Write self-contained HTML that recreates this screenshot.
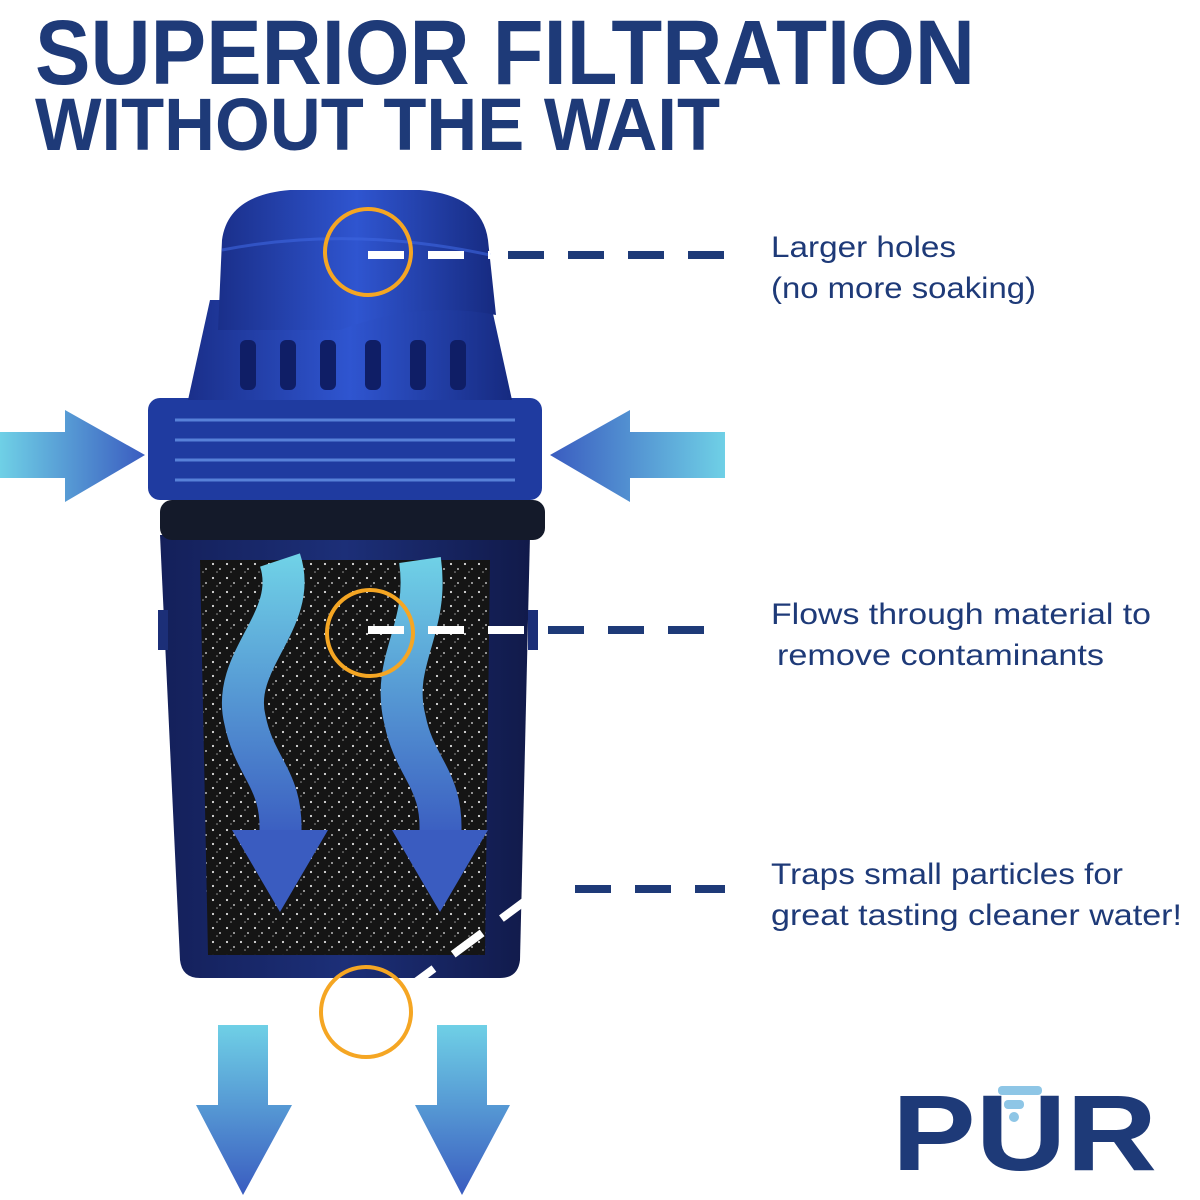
<!DOCTYPE html>
<html><head><meta charset="utf-8"><style>
html,body{margin:0;padding:0;background:#fff;}
svg{display:block;}
text{font-family:"Liberation Sans",sans-serif;}
</style></head><body>
<svg width="1200" height="1200" viewBox="0 0 1200 1200" xmlns="http://www.w3.org/2000/svg">
<defs>
<linearGradient id="hl" x1="0" x2="1" y1="0" y2="0"><stop offset="0" stop-color="#6fd0e6"/><stop offset="1" stop-color="#3a5cc0"/></linearGradient>
<linearGradient id="hr" x1="1" x2="0" y1="0" y2="0"><stop offset="0" stop-color="#6fd0e6"/><stop offset="1" stop-color="#3a5cc0"/></linearGradient>
<linearGradient id="vd" x1="0" x2="0" y1="0" y2="1"><stop offset="0" stop-color="#6fd0e6"/><stop offset="1" stop-color="#3a5cc0"/></linearGradient>
<linearGradient id="cap" x1="0" x2="1" y1="0" y2="0"><stop offset="0" stop-color="#1a2f8a"/><stop offset=".5" stop-color="#2f55d0"/><stop offset="1" stop-color="#162a80"/></linearGradient>
<linearGradient id="cup" x1="0" x2="1" y1="0" y2="0"><stop offset="0" stop-color="#14205a"/><stop offset=".5" stop-color="#1c2f78"/><stop offset="1" stop-color="#111a4a"/></linearGradient>
<pattern id="speck" width="14" height="14" patternUnits="userSpaceOnUse">
<rect width="14" height="14" fill="#151515"/>
<circle cx="3" cy="4" r="1.1" fill="#ddd"/><circle cx="10" cy="9" r="1" fill="#bbb"/><circle cx="7" cy="12" r=".8" fill="#999"/>
</pattern>
</defs>
<text x="35" y="84" font-size="92" font-weight="bold" fill="#1e3a78" textLength="940" lengthAdjust="spacingAndGlyphs">SUPERIOR FILTRATION</text>
<text x="35" y="150" font-size="74" font-weight="bold" fill="#1e3a78" textLength="685" lengthAdjust="spacingAndGlyphs">WITHOUT THE WAIT</text>

<path d="M160 535 L530 535 L520 960 Q518 978 500 978 L200 978 Q182 978 180 960 Z" fill="url(#cup)"/>
<rect x="158" y="610" width="10" height="40" fill="#1c2f78"/>
<rect x="528" y="610" width="10" height="40" fill="#1c2f78"/>
<path d="M200 560 L490 560 L485 955 L208 955 Z" fill="url(#speck)"/>
<rect x="160" y="500" width="385" height="40" rx="12" fill="#141a2a"/>
<rect x="148" y="398" width="394" height="102" rx="12" fill="#1f3ba0"/>
<g stroke="#6f9ff0" stroke-width="3" opacity=".7">
<line x1="175" y1="420" x2="515" y2="420"/><line x1="175" y1="440" x2="515" y2="440"/><line x1="175" y1="460" x2="515" y2="460"/><line x1="175" y1="480" x2="515" y2="480"/>
</g>
<path d="M210 300 L490 300 L512 400 L188 400 Z" fill="url(#cap)"/>
<g fill="#0f1e66">
<rect x="240" y="340" width="16" height="50" rx="6"/><rect x="280" y="340" width="16" height="50" rx="6"/><rect x="320" y="340" width="16" height="50" rx="6"/><rect x="365" y="340" width="16" height="50" rx="6"/><rect x="410" y="340" width="16" height="50" rx="6"/><rect x="450" y="340" width="16" height="50" rx="6"/>
</g>
<path d="M218 330 L222 240 Q228 195 290 190 L420 190 Q482 195 488 240 L496 315 Q420 300 340 330 Z" fill="url(#cap)"/>
<path d="M222 250 Q350 225 490 255" stroke="#3d66e0" stroke-width="3" fill="none" opacity=".6"/>

<g fill="none" stroke="url(#vd)" stroke-width="42">
<path d="M280 560 C300 620 230 660 245 720 C255 770 285 780 280 840"/>
<path d="M420 560 C430 630 390 660 405 720 C415 770 445 780 440 840"/>
</g>
<path d="M232 830 L328 830 L280 912 Z" fill="#3a5cc0"/>
<path d="M392 830 L488 830 L440 912 Z" fill="#3a5cc0"/>

<path d="M0 432 L65 432 L65 410 L145 455 L65 502 L65 478 L0 478 Z" fill="url(#hl)"/>
<path d="M725 432 L630 432 L630 410 L550 455 L630 502 L630 478 L725 478 Z" fill="url(#hr)"/>
<path d="M218 1025 L268 1025 L268 1105 L292 1105 L243 1195 L196 1105 L218 1105 Z" fill="url(#vd)"/>
<path d="M437 1025 L487 1025 L487 1105 L510 1105 L462 1195 L415 1105 L437 1105 Z" fill="url(#vd)"/>

<g stroke-width="8" stroke-dasharray="36 24">
<line x1="368" y1="255" x2="490" y2="255" stroke="#fff"/>
<line x1="508" y1="255" x2="725" y2="255" stroke="#1e3a78"/>
<line x1="368" y1="630" x2="530" y2="630" stroke="#fff"/>
<line x1="548" y1="630" x2="725" y2="630" stroke="#1e3a78"/>
<line x1="405" y1="990" x2="540" y2="890" stroke="#fff"/>
<line x1="575" y1="889" x2="725" y2="889" stroke="#1e3a78"/>
</g>
<g fill="none" stroke="#f5a623" stroke-width="4">
<circle cx="368" cy="252" r="43"/><circle cx="370" cy="633" r="43"/><circle cx="366" cy="1012" r="45"/>
</g>

<g fill="#1e3a78" font-size="30">
<text x="771" y="257" textLength="185" lengthAdjust="spacingAndGlyphs">Larger holes</text>
<text x="771" y="298" textLength="265" lengthAdjust="spacingAndGlyphs">(no more soaking)</text>
<text x="771" y="624" textLength="380" lengthAdjust="spacingAndGlyphs">Flows through material to</text>
<text x="777" y="665" textLength="327" lengthAdjust="spacingAndGlyphs">remove contaminants</text>
<text x="771" y="884" textLength="352" lengthAdjust="spacingAndGlyphs">Traps small particles for</text>
<text x="771" y="925" textLength="411" lengthAdjust="spacingAndGlyphs">great tasting cleaner water!</text>
</g>

<text x="892" y="1170" font-size="108" font-weight="bold" fill="#1e3a78" textLength="265" lengthAdjust="spacingAndGlyphs">PUR</text>
<g fill="#8ec6e6">
<rect x="998" y="1086" width="44" height="9" rx="4"/><rect x="1004" y="1100" width="20" height="9" rx="4"/><circle cx="1014" cy="1117" r="5"/>
</g>
</svg>
</body></html>
